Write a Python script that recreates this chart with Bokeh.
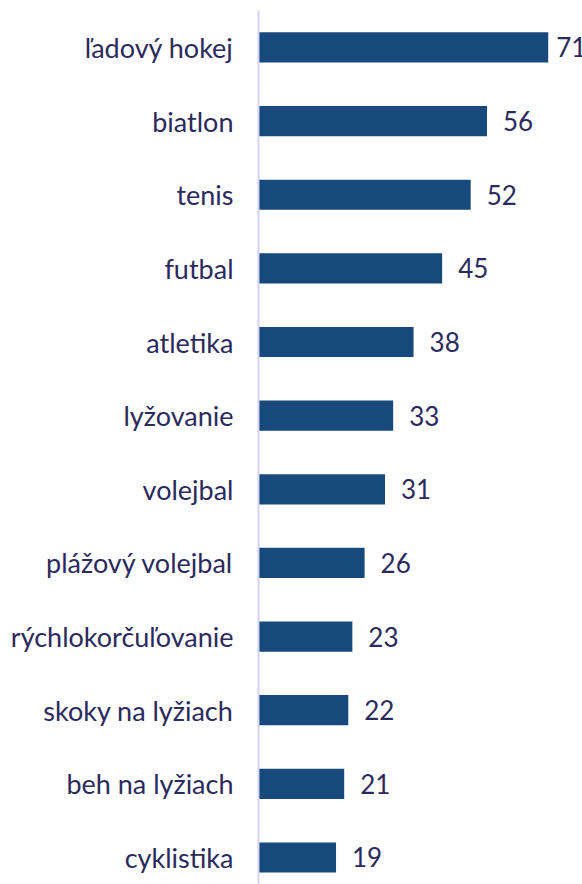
from bokeh.plotting import figure
from bokeh.models import Range1d, ColumnDataSource, FixedTicker
from bokeh.core.properties import value
from bokeh.embed import file_html
from bokeh.resources import INLINE

categories = ["ľadový hokej", "biatlon", "tenis", "futbal", "atletika", "lyžovanie",
              "volejbal", "plážový volejbal", "rýchlokorčuľovanie", "skoky na lyžiach",
              "beh na lyžiach", "cyklistika"]
values = [71, 56, 52, 45, 38, 33, 31, 26, 23, 22, 21, 19]

n = len(categories)
ypos = [n - 1 - i for i in range(n)]
# the longest bar's label is pulled closer so it stays on the page
offsets = [8 if v == max(values) else 16 for v in values]
src = ColumnDataSource(dict(y=ypos, v=values, lab=[str(v) for v in values], off=offsets))

p = figure(width=582, height=884, output_backend="svg", toolbar_location=None,
           x_range=Range1d(0, 79.4), y_range=Range1d(-0.367, n - 1 + 0.502),
           min_border_left=258, min_border_right=0, min_border_top=10, min_border_bottom=0)
p.outline_line_color = None
p.background_fill_color = "white"
p.border_fill_color = "white"
p.grid.visible = False
p.xaxis.visible = False

p.hbar(y="y", right="v", left=0, height=0.41, source=src, fill_color="#17497c", line_color=None)
p.text(x="v", y="y", text="lab", source=src, x_offset="off", text_baseline="middle",
       text_align="left", text_font=value("Lato"), text_font_size="26px", text_color="#2b2a5c")

ya = p.yaxis[0]
ya.ticker = FixedTicker(ticks=ypos)
ya.major_label_overrides = {yy: c for yy, c in zip(ypos, categories)}
ya.major_tick_line_color = None
ya.minor_tick_line_color = None
ya.axis_line_color = "#d3d3ef"
ya.axis_line_width = 2
ya.major_label_standoff = 19
ya.major_label_text_font = "Lato"
ya.major_label_text_font_size = "27px"
ya.major_label_text_color = "#2b2a5c"

open("out.html", "w").write(file_html(p, INLINE))
